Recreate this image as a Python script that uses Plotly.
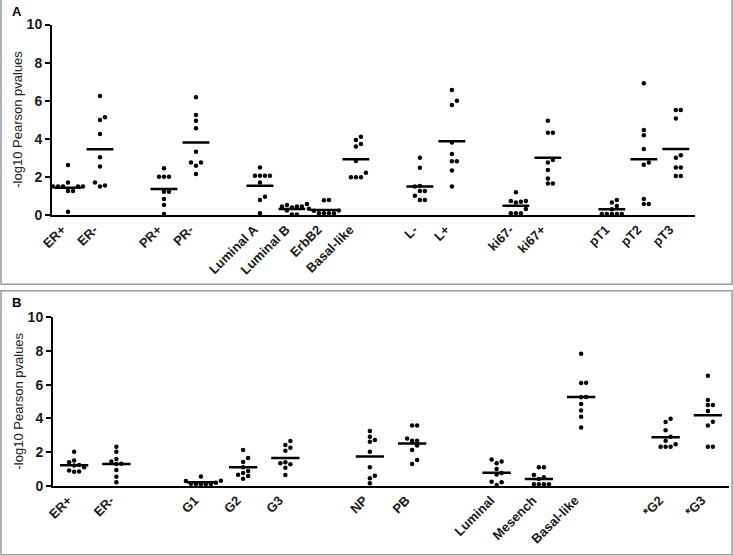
import plotly.graph_objects as go

# ---------------- Data ----------------
groups_a = [["ER+", "ER-"], ["PR+", "PR-"],
            ["Luminal A", "Luminal B", "ErbB2", "Basal-like"],
            ["L-", "L+"], ["ki67-", "ki67+"], ["pT1", "pT2", "pT3"]]
values_a = {
    "ER+": [2.62, 1.70, 1.49, 1.49, 1.49, 1.49, 1.49, 1.26, 1.26, 0.17],
    "ER-": [6.25, 5.13, 4.99, 4.25, 3.03, 2.54, 1.70, 1.55, 1.49],
    "PR+": [2.45, 2.01, 2.01, 2.01, 1.22, 1.22, 0.84, 0.52, 0.05],
    "PR-": [6.18, 5.25, 4.95, 4.55, 3.32, 2.76, 2.76, 2.59, 2.15],
    "Luminal A": [2.50, 2.06, 2.06, 2.06, 2.06, 1.70, 0.96, 0.79, 0.09],
    "Luminal B": [0.58, 0.52, 0.44, 0.44, 0.44, 0.40, 0.23, 0.02, 0.03],
    "ErbB2": [0.79, 0.77, 0.33, 0.24, 0.22, 0.09, 0.09, 0.09, 0.09],
    "Basal-like": [4.11, 3.94, 3.73, 3.59, 2.83, 2.22, 1.98, 1.98, 1.98],
    "L-": [3.01, 2.48, 1.52, 1.49, 1.26, 1.26, 1.01, 0.79, 0.79],
    "L+": [6.56, 6.00, 5.77, 3.80, 3.20, 2.82, 2.82, 2.33, 1.49],
    "ki67-": [1.19, 0.73, 0.73, 0.70, 0.65, 0.31, 0.09, 0.09, 0.09],
    "ki67+": [4.95, 4.32, 4.32, 2.89, 2.76, 2.36, 1.92, 1.66, 1.66],
    "pT1": [0.79, 0.66, 0.47, 0.30, 0.05, 0.05, 0.05, 0.05, 0.05],
    "pT2": [6.91, 4.46, 4.18, 3.46, 2.75, 2.64, 0.84, 0.58, 0.58],
    "pT3": [5.51, 5.51, 5.06, 3.13, 3.01, 2.50, 2.50, 2.05, 2.05],
}
means_a = [1.43, 3.45, 1.36, 3.81, 1.54, 0.31, 0.26, 2.92, 1.50, 3.87,
           0.49, 3.01, 0.30, 2.92, 3.46]

groups_b = [["ER+", "ER-"], ["G1", "G2", "G3"], ["NP", "PB"],
            ["Luminal", "Mesench", "Basal-like"], ["*G2", "*G3"]]
values_b = {
    "ER+": [2.02, 1.49, 1.39, 1.23, 1.20, 1.10, 0.90, 0.85, 0.83],
    "ER-": [2.32, 2.02, 1.58, 1.43, 1.30, 1.29, 0.93, 0.53, 0.20],
    "G1": [0.55, 0.30, 0.28, 0.18, 0.12, 0.10, 0.10, 0.08, 0.08],
    "G2": [2.12, 1.65, 1.40, 1.09, 0.88, 0.75, 0.65, 0.58, 0.42],
    "G3": [2.65, 2.42, 2.26, 2.08, 1.39, 1.33, 1.27, 1.07, 0.63],
    "NP": [3.25, 2.91, 2.71, 2.61, 2.02, 1.09, 0.59, 0.44, 0.14],
    "PB": [3.58, 3.58, 2.81, 2.67, 2.67, 2.38, 2.12, 1.52, 1.29],
    "Luminal": [1.56, 1.43, 1.33, 0.99, 0.75, 0.67, 0.24, 0.20, 0.04],
    "Mesench": [1.09, 1.09, 0.63, 0.50, 0.40, 0.08, 0.08, 0.08, 0.08],
    "Basal-like": [7.84, 6.12, 6.10, 5.27, 5.25, 4.85, 4.46, 4.10, 3.45],
    "*G2": [3.98, 3.78, 3.29, 2.91, 2.67, 2.46, 2.32, 2.32, 2.32],
    "*G3": [6.53, 5.09, 4.79, 4.79, 4.44, 3.80, 3.58, 2.32, 2.32],
}
means_b = [1.21, 1.29, 0.20, 1.09, 1.64, 1.74, 2.51, 0.77, 0.40, 5.27,
           2.87, 4.18]

y_ticks = [0, 2, 4, 6, 8, 10]
y_title = "-log10 Pearson pvalues"

# ---------------- Helpers ----------------
W, H = 733, 556


def layout_positions(groups):
    cats, pos = [], []
    p = 0
    for g in groups:
        for c in g:
            cats.append(c)
            pos.append(p)
            p += 1
        p += 1
    return cats, pos


def swarm(vals, px_x, px_y, d=5.0):
    placed = []
    res = [0.0] * len(vals)
    order = sorted(range(len(vals)), key=lambda i: vals[i])
    cands = [0.0]
    for j in range(1, 30):
        cands += [j * d, -j * d]
    for i in order:
        y = vals[i] * px_y
        chosen = 0.0
        for c in cands:
            if all((c - px) ** 2 + (y - py) ** 2 >= (d * 0.95) ** 2 for px, py in placed):
                chosen = c
                break
        placed.append((chosen, y))
        res[i] = chosen / px_x
    return res


fig = go.Figure()

panels = [
    dict(groups=groups_a, values=values_a, means=means_a, xa="x", ya="y",
         xdom=(52, 695), ydom=(24.5, 215), xmax=19.6, half=0.42),
    dict(groups=groups_b, values=values_b, means=means_b, xa="x2", ya="y2",
         xdom=(53, 729), ydom=(317.3, 485.7), xmax=15.5, half=0.335),
]

FONT = "Liberation Sans, Arial, sans-serif"

for idx, P in enumerate(panels):
    cats, pos = layout_positions(P["groups"])
    xmin = -0.5
    px_x = (P["xdom"][1] - P["xdom"][0]) / (P["xmax"] - xmin)
    px_y = (P["ydom"][1] - P["ydom"][0]) / 10.0
    xs, ys = [], []
    lx, ly = [], []
    for c, p, m in zip(cats, pos, P["means"]):
        v = P["values"][c]
        offs = swarm(v, px_x, px_y)
        xs += [p + o for o in offs]
        ys += v
        lx += [p - P["half"], p + P["half"], None]
        ly += [m, m, None]
    fig.add_trace(go.Scatter(x=xs, y=ys, mode="markers", xaxis=P["xa"], yaxis=P["ya"],
                             marker=dict(size=4.5, color="black"),
                             showlegend=False, hoverinfo="y", cliponaxis=False))
    fig.add_trace(go.Scatter(x=lx, y=ly, mode="lines", xaxis=P["xa"], yaxis=P["ya"],
                             line=dict(color="black", width=2.5),
                             showlegend=False, hoverinfo="skip", cliponaxis=False))
    suffix = "" if idx == 0 else "2"
    xkey = "xaxis" + suffix
    ykey = "yaxis" + suffix
    fig.update_layout(**{
        xkey: dict(domain=[P["xdom"][0] / W, P["xdom"][1] / W],
                   range=[xmin, P["xmax"]], anchor=P["ya"], automargin=False,
                   tickmode="array", tickvals=pos, ticktext=cats, tickangle=-45,
                   ticklabelshift=-6,
                   ticks="", showgrid=False, zeroline=False, showline=True,
                   linecolor="black", linewidth=2,
                   tickfont=dict(family=FONT, size=13, color="#1a1a1a", weight="bold")),
        ykey: dict(domain=[1 - P["ydom"][1] / H, 1 - P["ydom"][0] / H],
                   range=[0, 10], anchor=P["xa"], automargin=False,
                   tickmode="array", tickvals=y_ticks, ticks="outside",
                   ticklen=5, tickwidth=2, tickcolor="black",
                   showgrid=False, zeroline=False, showline=True,
                   linecolor="black", linewidth=2,
                   tickfont=dict(family=FONT, size=14, color="#1a1a1a", weight="bold")),
    })
    ymid = 1 - (P["ydom"][0] + P["ydom"][1]) / 2 / H
    fig.add_annotation(x=18 / W, y=ymid, xref="paper", yref="paper",
                       xanchor="center", yanchor="middle",
                       text=y_title, textangle=-90, showarrow=False,
                       font=dict(family=FONT, size=13, color="#222"))

# panel letters
fig.add_annotation(x=17 / W, y=1 - 12 / H, xref="paper", yref="paper", text="<b>A</b>",
                   xanchor="center", yanchor="middle",
                   showarrow=False, font=dict(family=FONT, size=13, color="black"))
fig.add_annotation(x=16 / W, y=1 - 302 / H, xref="paper", yref="paper", text="<b>B</b>",
                   xanchor="center", yanchor="middle",
                   showarrow=False, font=dict(family=FONT, size=13, color="black"))

# panel borders
border = dict(color="#9a9a9a", width=1.5)
for (x0, y0, x1, y1) in [(1, 284.3, 1, 0), (732, 284.3, 732, 0), (1, 284.3, 732, 284.3)]:
    fig.add_shape(type="line", xref="paper", yref="paper",
                  x0=x0 / W, x1=x1 / W, y0=1 - y0 / H, y1=1 - y1 / H, line=border)
fig.add_shape(type="rect", xref="paper", yref="paper",
              x0=1 / W, x1=732 / W, y0=1 - 554.7 / H, y1=1 - 290.7 / H, line=border)

fig.update_layout(width=W, height=H, margin=dict(l=0, r=0, t=0, b=0),
                  paper_bgcolor="white", plot_bgcolor="white", showlegend=False)

fig.write_html("out.html", config={"displayModeBar": False},
               post_script="document.body.style.margin='0';document.body.style.overflow='hidden';")
